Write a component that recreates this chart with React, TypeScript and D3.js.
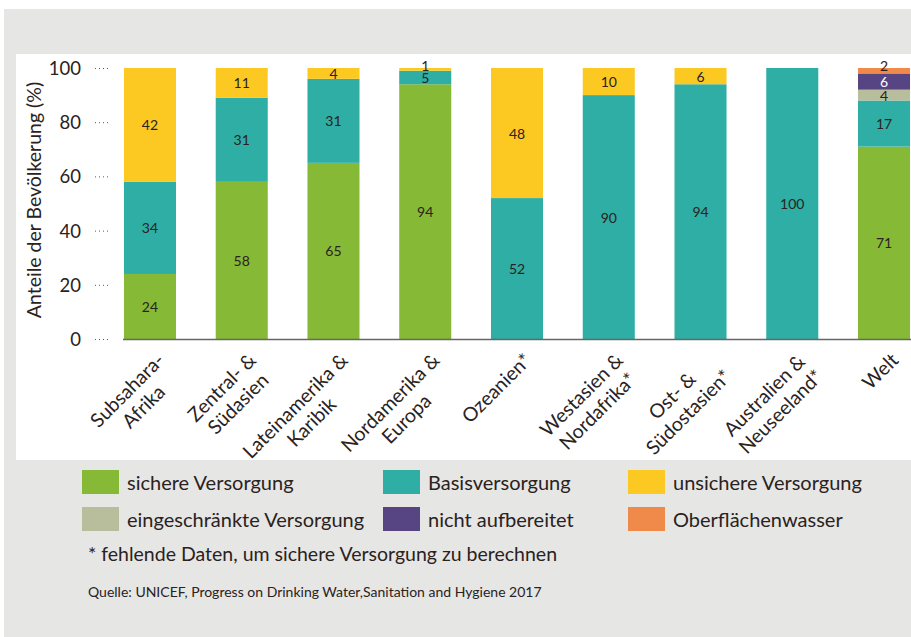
import React from "react";
import * as d3 from "d3";

// regions (x axis labels, split in lines)
const regions: string[][] = [
  ["Subsahara-", "Afrika"],
  ["Zentral- &", "Südasien"],
  ["Lateinamerika &", "Karibik"],
  ["Nordamerika &", "Europa"],
  ["Ozeanien*"],
  ["Westasien &", "Nordafrika*"],
  ["Ost- &", "Südostasien*"],
  ["Australien &", "Neuseeland*"],
  ["Welt"],
];

const sicher = [24, 58, 65, 94, 0, 0, 0, 0, 71];
const basis = [34, 31, 31, 5, 52, 90, 94, 100, 17];
const unsicher = [42, 11, 4, 1, 48, 10, 6, 0, 0];
const eingeschraenkt = [0, 0, 0, 0, 0, 0, 0, 0, 4];
const nichtAufbereitet = [0, 0, 0, 0, 0, 0, 0, 0, 6];
const oberflaeche = [0, 0, 0, 0, 0, 0, 0, 0, 2];

const seriesNames = [
  "sichere Versorgung",
  "Basisversorgung",
  "unsichere Versorgung",
  "eingeschränkte Versorgung",
  "nicht aufbereitet",
  "Oberflächenwasser",
];
const colors = ["#86b936", "#2eaea4", "#fcc923", "#b8bd9c", "#574583", "#ef8a4a"];
const yTicks = [0, 20, 40, 60, 80, 100];

const W = 911;
const H = 637;
const FONT = "Lato, 'Open Sans', sans-serif";
const INK = "#2a2220";

let canvas: HTMLCanvasElement | null = null;
function textWidth(s: string, size: number) {
  if (!canvas) canvas = document.createElement("canvas");
  const ctx = canvas.getContext("2d")!;
  ctx.font = `${size}px Lato`;
  return ctx.measureText(s).width;
}

export default function App() {
  const values = [sicher, basis, unsicher, eingeschraenkt, nichtAufbereitet, oberflaeche];
  const rows = regions.map((_, i) => {
    const r: Record<string, number> = {};
    seriesNames.forEach((n, k) => (r[n] = values[k][i]));
    return r;
  });
  const stack = d3.stack<Record<string, number>>().keys(seriesNames)(rows);

  const x = d3
    .scaleBand<number>()
    .domain(d3.range(regions.length))
    .range([104.1, 929.9])
    .paddingInner(0.433)
    .paddingOuter(0.2165);
  const y = d3.scaleLinear().domain([0, 100]).range([339, 68]);

  const legendCols = [82, 383, 628];
  const legendRows = [470, 507];

  return (
    <svg
      width={W}
      height={H}
      style={{ position: "absolute", left: 0, top: 0 }}
      fontFamily={FONT}
    >
      <rect x={0} y={0} width={W} height={H} fill="#fff" />
      <rect x={4} y={9} width={W - 4} height={H - 9} fill="#e6e6e5" />
      <rect x={16} y={54} width={W - 16} height={406} fill="#fff" />

      {/* y axis */}
      <text
        transform={`translate(33,${200}) rotate(-90)`}
        textAnchor="middle"
        dominantBaseline="central"
        fontSize={19.5}
        fill={INK}
      >
        Anteile der Bevölkerung (%)
      </text>
      {yTicks.map((t) => (
        <g key={t}>
          <text
            x={81}
            y={y(t)}
            textAnchor="end"
            dominantBaseline="central"
            fontSize={18.5}
            fill={INK}
          >
            {t}
          </text>
          <line
            x1={95}
            x2={111}
            y1={y(t) + 0.5}
            y2={y(t) + 0.5}
            stroke="#555"
            strokeWidth={1}
            strokeDasharray="1,3"
          />
        </g>
      ))}

      {/* bars */}
      {stack.map((s, k) =>
        s.map((d, i) =>
          d[1] - d[0] > 0 ? (
            <rect
              key={`${k}-${i}`}
              x={x(i)}
              width={x.bandwidth()}
              y={y(d[1])}
              height={y(d[0]) - y(d[1])}
              fill={colors[k]}
            />
          ) : null
        )
      )}
      {stack.map((s, k) =>
        s.map((d, i) => {
          const v = d[1] - d[0];
          if (v <= 0) return null;
          const cy = v < 3 ? y(d[1]) - 3 : (y(d[0]) + y(d[1])) / 2;
          return (
            <text
              key={`l${k}-${i}`}
              x={x(i)! + x.bandwidth() / 2}
              y={cy}
              textAnchor="middle"
              dominantBaseline="central"
              fontSize={14}
              fill={k === 4 ? "#fff" : INK}
            >
              {v}
            </text>
          );
        })
      )}
      <line x1={123} x2={W} y1={339.5} y2={339.5} stroke="#666" strokeWidth={1.5} />

      {/* x labels */}
      {regions.map((lines, i) => {
        const cx = x(i)! + x.bandwidth() / 2;
        const wMax = d3.max(lines, (l) => textWidth(l, 19.5))!;
        return (
          <g key={i} transform={`translate(${cx},339) rotate(-45)`}>
            {lines.map((l, j) => (
              <text
                key={j}
                x={-5 - wMax / 2}
                y={27 + j * 23}
                textAnchor="middle"
                fontSize={19.5}
                fill={INK}
              >
                {l}
              </text>
            ))}
          </g>
        );
      })}

      {/* legend */}
      {seriesNames.map((n, k) => {
        const lx = legendCols[k % 3];
        const ly = legendRows[Math.floor(k / 3)];
        return (
          <g key={n}>
            <rect x={lx} y={ly} width={37} height={24} fill={colors[k]} />
            <text
              x={lx + 45}
              y={ly + 12}
              dominantBaseline="central"
              fontSize={20}
              fill={INK}
            >
              {n}
            </text>
          </g>
        );
      })}
      <text x={88} y={553} dominantBaseline="central" fontSize={19.5} fill={INK}>
        * fehlende Daten, um sichere Versorgung zu berechnen
      </text>
      <text x={88} y={591} dominantBaseline="central" fontSize={14} fill={INK}>
        Quelle: UNICEF, Progress on Drinking Water,Sanitation and Hygiene 2017
      </text>
    </svg>
  );
}
